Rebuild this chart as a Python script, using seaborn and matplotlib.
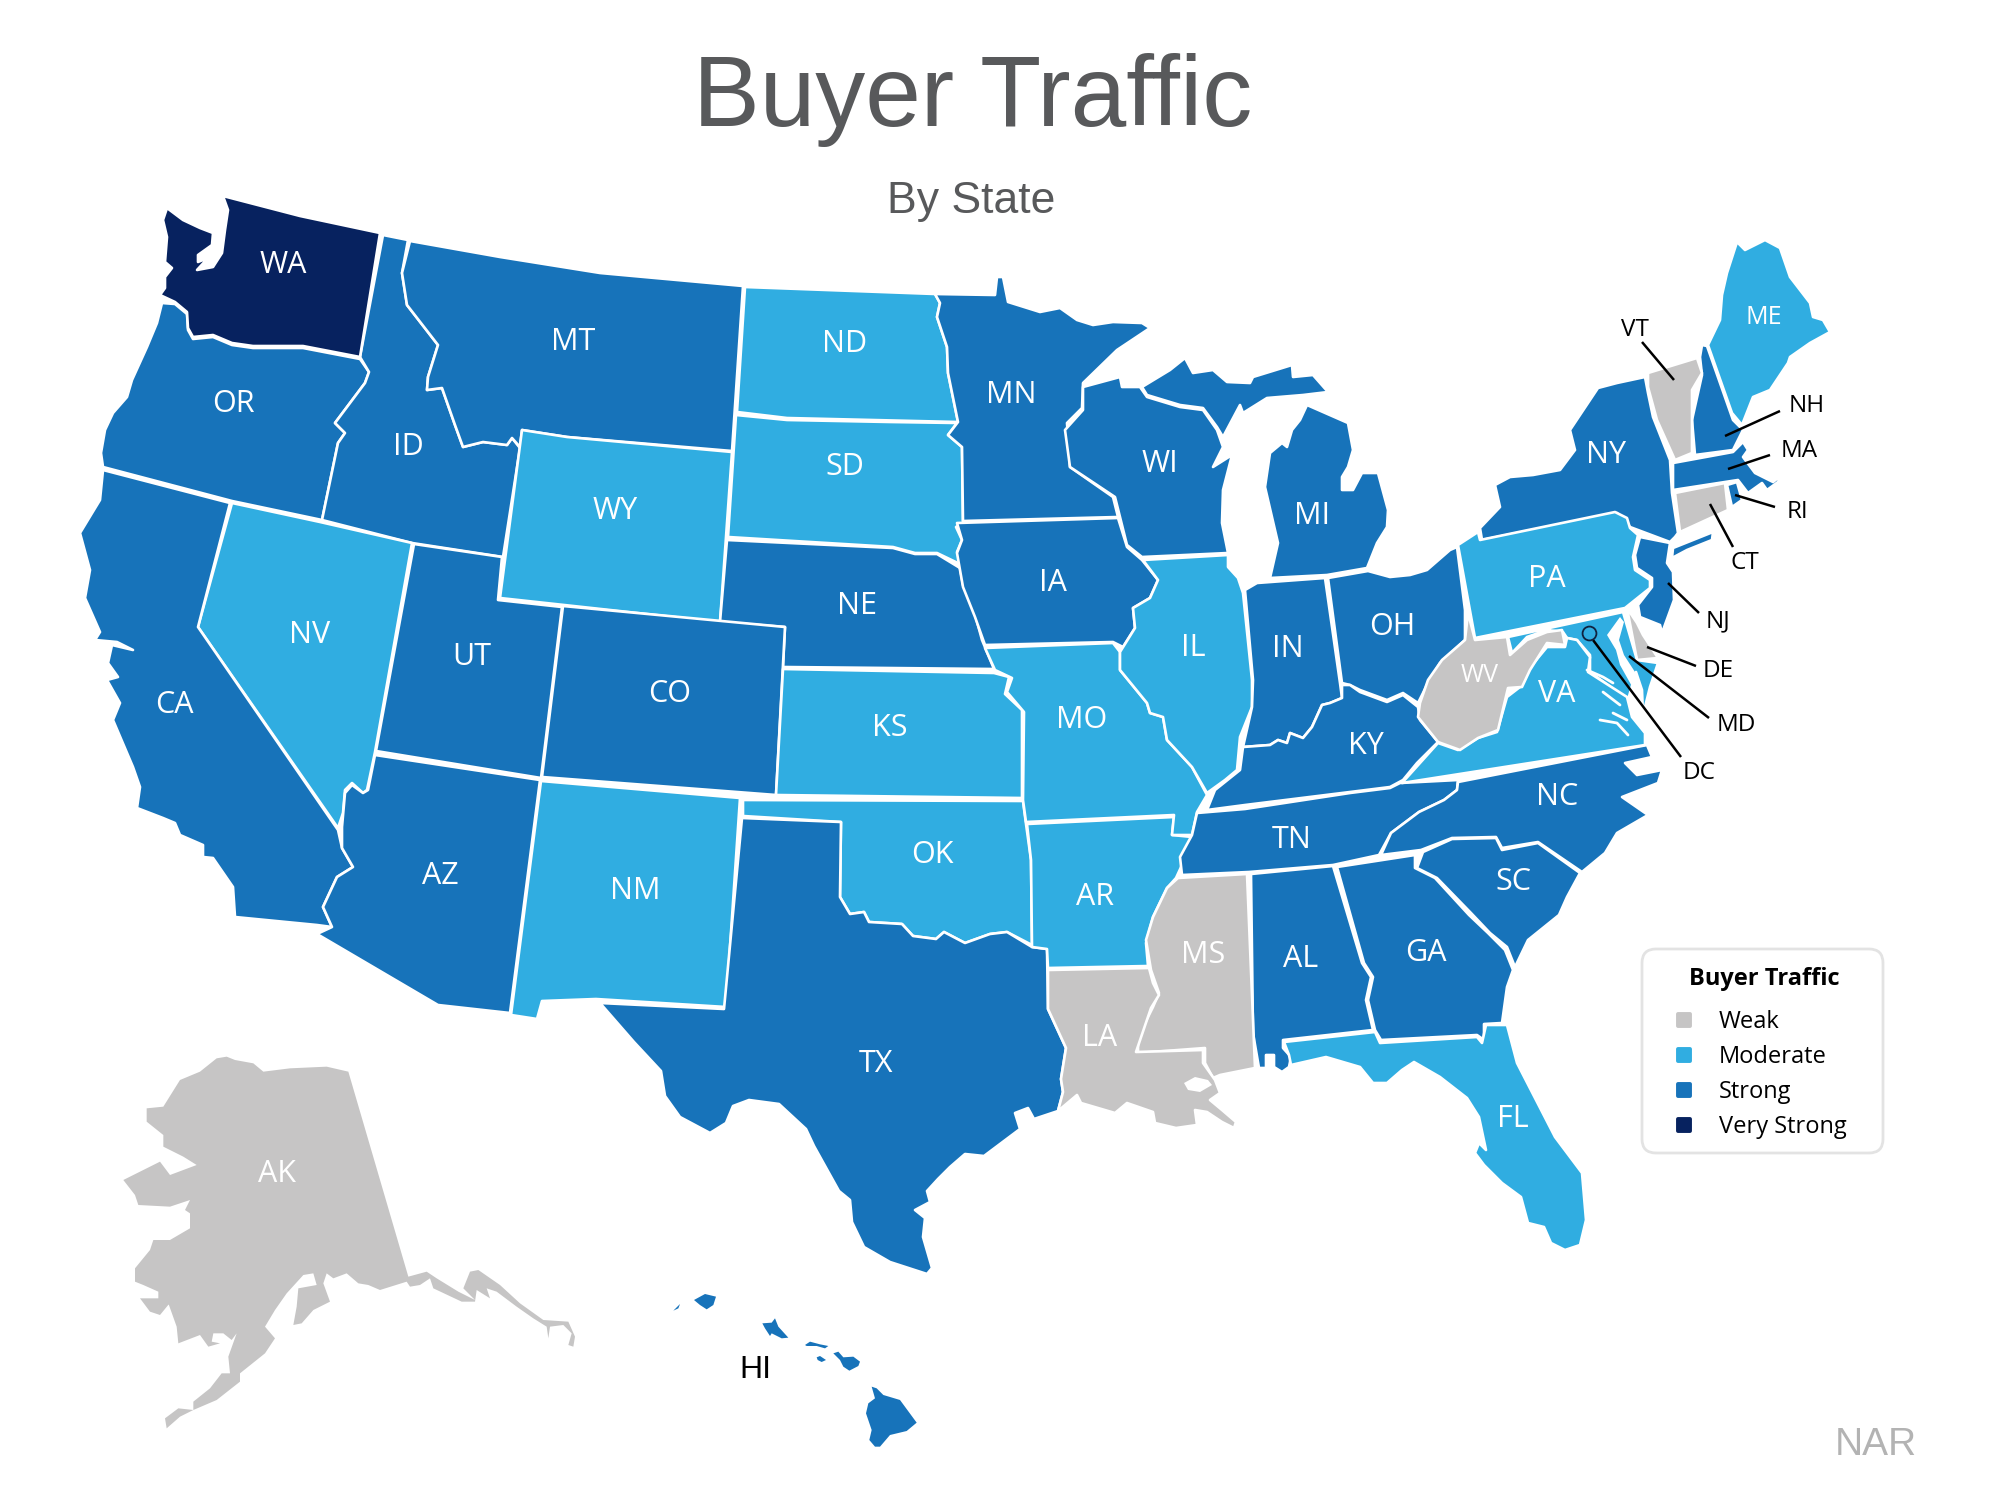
import matplotlib
matplotlib.use("Agg")
import matplotlib.pyplot as plt
from matplotlib.patches import FancyBboxPatch
import pandas as pd
import seaborn as sns

# buyer traffic rating per state
LEVELS = ["Weak", "Moderate", "Strong", "Very Strong"]
LEVEL_COLORS = ["#c6c5c5", "#30ade1", "#1773ba", "#07225f"]
WEAK = ["AK", "CT", "DE", "LA", "MS", "VT", "WV"]
MODERATE = ["AR", "FL", "IL", "KS", "ME", "MD", "MO", "ND", "NM", "NV", "OK", "PA", "SD", "VA", "WY"]
STRONG = ["AL", "AZ", "CA", "CO", "GA", "HI", "IA", "ID", "IN", "KY", "MA", "MI", "MN", "MT", "NC",
          "NE", "NH", "NJ", "NY", "OH", "OR", "RI", "SC", "TN", "TX", "UT", "WI"]
VERY_STRONG = ["WA"]

# state outlines in pixels
WA = [(223,196),(300,216),(380,233),(360,357),(303,346),(280,346),(253,346),(232,343),(213,335),(193,337),(188,328),
      (187,312),(175,302),(160,295),(165,288),(165,277),(172,268),(165,262),(167,237),(163,220),(167,208),(183,220),
      (200,228),(213,233),(212,245),(198,255),(198,262),(208,258),(197,270),(213,267),(222,253),(225,230),(228,210)]
OR = [(162,303),(175,304),(187,314),(188,330),(193,339),(213,337),(232,345),(253,348),(280,348),(303,348),(360,359),
      (369,372),(365,383),(347,407),(335,423),(345,433),(338,443),(322,520),(232,501),(103,467),(101,453),(105,430),(113,413),
      (127,397),(132,380),(147,347),(157,323)]
ID = [(383,235),(408,240),(402,273),(407,305),(438,345),(428,377),(427,390),(442,388),(455,425),(463,447),(483,442),
      (507,445),(512,438),(520,448),(503,557),(412,543),(322,520),(338,443),(345,433),(335,423),(347,407),(365,383),
      (369,372),(360,357)]
MT = [(410,241),(500,257),(600,273),(743,286),(732,451),(567,437),(522,430),(520,447),(512,438),(507,445),(483,442),
      (463,447),(455,425),(442,388),(427,390),(428,377),(438,345),(407,305),(402,273)]
WY = [(522,430),(567,437),(732,452),(720,622),(500,598)]
ND = [(745,287),(935,294),(940,303),(937,317),(947,347),(948,373),(958,422),(787,418),(737,412)]
SD = [(736,415),(787,420),(890,422),(957,423),(948,435),(962,447),(963,523),(956,527),(962,540),(957,552),(962,565),
      (937,553),(915,553),(893,547),(728,537)]
NE = [(727,540),(893,548),(915,554),(937,554),(960,568),(963,585),(973,607),(982,640),(994,669),(783,667),(785,627),(720,622)]
CO = [(563,606),(785,627),(776,795),(542,777)]
UT = [(414,544),(502,557),(498,600),(562,607),(541,778),(376,751)]
NV = [(232,503),(320,522),(412,543),(375,752),(367,790),(363,793),(352,783),(345,790),(343,813),(338,828),(198,627)]
CA = [(103,470),(230,503),(198,627),(338,830),(342,848),(353,867),(337,877),(323,907),(332,927),(317,925),(235,917),
      (233,887),(213,858),(203,857),(203,845),(180,835),(175,823),(163,818),(137,808),(140,787),(133,767),(113,720),
      (120,703),(107,680),(118,677),(108,663),(112,645),(133,650),(117,642),(95,640),(100,632),(85,598),(90,570),
      (80,533),(100,500)]
AZ = [(375,755),(540,780),(510,1013),(438,1005),(317,934),(332,927),(323,907),(337,877),(353,867),(342,848),(342,827),
      (345,793),(352,785),(363,793),(368,790)]
NM = [(541,781),(740,798),(726,1007),(596,999),(542,1001),(537,1019),(511,1015)]
TX = [(742,818),(841,822),(840,897),(850,914),(864,912),(869,922),(902,924),(913,936),(936,939),(944,932),(965,943),
      (990,934),(1007,932),(1032,947),(1047,949),(1048,1009),(1066,1048),(1061,1079),(1063,1092),(1058,1111),(1034,1119),
      (1028,1108),(1015,1113),(1020,1129),(984,1156),(965,1154),(950,1167),(938,1179),(927,1191),(930,1202),(915,1210),
      (925,1218),(923,1237),(932,1268),(927,1274),(890,1262),(864,1247),(852,1222),(850,1200),(839,1191),(814,1146),
      (806,1129),(779,1104),(749,1100),(733,1106),(726,1123),(710,1133),(680,1117),(665,1096),(661,1071),(634,1042),
      (600,1003),(724,1009)]
OK = [(743,800),(1023,801),(1026,824),(1031,860),(1032,945),(1007,932),(990,934),(965,943),(944,932),(936,939),(913,936),
      (902,924),(869,922),(864,912),(850,914),(840,897),(841,822),(743,816)]
KS = [(783,669),(994,673),(1009,677),(1005,694),(1022,710),(1022,798),(776,795)]
MO = [(985,648),(1113,643),(1120,652),(1120,670),(1147,703),(1150,713),(1163,717),(1167,740),(1192,767),(1207,795),
      (1197,812),(1192,835),(1172,835),(1174,815),(1026,822),(1023,800),(1024,712),(1007,692),(1012,678),(995,670)]
AR = [(1027,824),(1174,817),(1172,835),(1192,837),(1182,865),(1176,878),(1167,888),(1153,917),(1146,943),(1148,966),
      (1048,968),(1047,949),(1032,947),(1031,860)]
IA = [(957,523),(1118,518),(1127,547),(1142,560),(1158,580),(1150,598),(1133,608),(1135,628),(1123,647),(1113,642),
      (985,645),(975,617),(963,587),(957,553),(962,540)]
MN = [(935,294),(995,295),(997,277),(1003,277),(1008,302),(1040,312),(1060,308),(1077,320),(1093,325),(1113,322),(1142,323),
      (1150,328),(1117,350),(1083,383),(1082,408),(1067,423),(1070,467),(1113,497),(1118,517),(963,521),(962,447),(948,435),
      (958,422),(948,373),(947,347),(937,317),(940,303)]
WI = [(1083,387),(1120,377),(1122,387),(1140,387),(1147,397),(1180,407),(1203,410),(1217,430),(1223,447),(1213,467),
      (1232,455),(1223,490),(1222,523),(1228,553),(1142,557),(1127,545),(1115,497),(1070,467),(1065,430),(1083,410)]
MI_UPPER = [(1142,387),(1170,370),(1185,358),(1193,373),(1213,370),(1227,382),(1250,383),(1253,377),(1292,365),(1293,377),
            (1313,375),(1328,392),(1303,395),(1267,398),(1243,413),(1240,405),(1223,437),(1217,427),(1203,408),(1180,405),(1147,395)]
MI_LOWER = [(1307,405),(1348,423),(1353,450),(1348,467),(1342,477),(1342,490),(1353,490),(1362,473),(1378,473),(1388,510),
            (1387,527),(1377,543),(1367,568),(1327,575),(1270,578),(1278,543),(1265,487),(1270,453),(1282,443),(1287,447),
            (1292,430),(1300,420)]
IL = [(1143,560),(1228,555),(1228,567),(1238,578),(1243,593),(1252,680),(1252,707),(1240,737),(1237,770),(1225,780),(1207,793),
      (1192,767),(1167,740),(1163,717),(1150,713),(1147,703),(1120,670),(1120,652),(1135,628),(1133,608),(1150,598),(1158,580)]
IN = [(1245,590),(1257,583),(1325,578),(1340,683),(1342,698),(1330,703),(1322,705),(1312,727),(1303,738),(1290,733),(1287,743),
      (1278,740),(1270,745),(1243,747),(1252,707),(1253,680)]
OH = [(1328,578),(1368,571),(1390,577),(1410,575),(1427,570),(1450,550),(1457,547),(1465,610),(1465,640),(1440,663),(1428,683),
      (1418,703),(1403,693),(1387,700),(1360,690),(1350,685),(1342,683)]
KY = [(1243,747),(1270,745),(1278,740),(1287,743),(1290,733),(1303,738),(1312,727),(1322,705),(1330,703),(1342,698),(1342,685),
      (1350,685),(1360,692),(1387,702),(1403,695),(1418,707),(1420,720),(1438,742),(1417,763),(1403,780),(1390,787),(1350,792),
      (1245,805),(1207,810),(1215,790),(1240,770)]
TN = [(1197,813),(1245,809),(1350,793),(1390,788),(1400,783),(1458,780),(1457,790),(1444,800),(1419,812),(1391,833),(1379,855),
      (1333,865),(1249,872),(1182,875),(1180,857),(1192,835)]
NC = [(1458,782),(1647,745),(1652,757),(1625,763),(1637,775),(1662,770),(1658,783),(1622,797),(1648,815),(1617,833),(1605,853),
      (1582,872),(1538,842),(1502,848),(1496,837),(1452,838),(1421,850),(1381,855),(1391,833),(1419,812),(1444,800),(1457,790)]
SC = [(1423,852),(1452,839),(1496,838),(1502,850),(1538,843),(1580,873),(1567,897),(1559,915),(1528,940),(1515,967),(1507,947),
      (1490,933),(1471,913),(1437,878),(1417,868)]
GA = [(1337,867),(1415,855),(1415,868),(1435,878),(1469,915),(1488,933),(1505,950),(1513,970),(1507,987),(1502,1023),(1484,1024),
      (1484,1040),(1477,1035),(1381,1040),(1375,1030),(1368,1000),(1373,977),(1364,963)]
AL = [(1251,874),(1333,866),(1362,963),(1371,977),(1366,1000),(1373,1030),(1283,1040),(1283,1048),(1291,1057),(1289,1067),
      (1282,1072),(1274,1067),(1274,1055),(1266,1055),(1266,1068),(1259,1068),(1253,1033)]
FL = [(1284,1042),(1375,1032),(1380,1043),(1477,1037),(1482,1043),(1486,1025),(1507,1025),(1517,1063),(1555,1137),(1582,1173),
      (1586,1220),(1580,1245),(1565,1250),(1551,1243),(1544,1227),(1528,1223),(1521,1197),(1502,1183),(1484,1165),(1475,1153),
      (1479,1143),(1486,1150),(1479,1117),(1467,1098),(1440,1077),(1414,1062),(1402,1070),(1387,1083),(1373,1083),(1360,1067),(1326,1057),
      (1291,1065),(1289,1055)]
MS = [(1178,878),(1247,874),(1255,1068),(1220,1075),(1213,1078),(1205,1063),(1205,1048),(1138,1053),(1138,1037),(1153,1007),
      (1159,993),(1151,970),(1146,940),(1153,917),(1167,888)]
LA = [(1048,970),(1149,968),(1153,983),(1159,995),(1151,1008),(1136,1052),(1203,1050),(1203,1063),(1215,1080),(1220,1093),
      (1210,1100),(1222,1110),(1236,1122),(1234,1128),(1222,1122),(1207,1112),(1195,1110),(1197,1125),(1176,1128),(1155,1123),
      (1153,1112),(1127,1103),(1115,1113),(1081,1103),(1077,1095),(1058,1111),(1063,1092),(1061,1079),(1066,1048),(1048,1009)]
ME = [(1708,345),(1720,320),(1722,295),(1727,273),(1737,242),(1745,250),(1765,240),(1780,248),(1790,277),(1810,303),(1813,317),
      (1823,320),(1830,332),(1810,343),(1790,357),(1788,363),(1770,390),(1753,397),(1742,425),(1732,413)]
NH = [(1702,345),(1707,346),(1733,420),(1743,430),(1733,450),(1695,455),(1692,420),(1702,375),(1700,357)]
VT = [(1648,373),(1697,358),(1702,373),(1692,390),(1692,453),(1675,460),(1657,420),(1648,387)]
NY = [(1645,377),(1648,393),(1653,417),(1670,460),(1672,493),(1678,533),(1675,537),(1670,542),(1630,527),(1617,513),(1482,540),
      (1480,528),(1500,507),(1495,485),(1510,477),(1533,475),(1560,470),(1575,450),(1570,430),(1598,388),(1617,383)]
LONG_ISLAND = [(1672,558),(1673,548),(1713,532),(1712,540),(1687,550)]
MA = [(1673,463),(1733,452),(1743,442),(1748,450),(1743,457),(1755,473),(1773,482),(1782,475),(1778,482),(1767,490),(1762,483),
      (1748,493),(1738,480),(1673,490)]
CT = [(1675,493),(1725,483),(1728,510),(1680,532)]
RI = [(1727,485),(1737,482),(1742,500),(1732,507)]
PA = [(1478,532),(1480,540),(1615,512),(1627,518),(1630,528),(1638,535),(1633,557),(1635,570),(1650,580),(1650,588),(1625,608),
      (1475,638),(1458,545)]
NJ = [(1640,537),(1670,543),(1667,563),(1673,572),(1674,600),(1662,633),(1660,625),(1640,617),(1638,605),(1652,587),(1652,578),
      (1637,568),(1635,555)]
DE = [(1627,608),(1637,623),(1643,635),(1658,658),(1637,660)]
MD = [(1508,637),(1623,612),(1637,660),(1658,663),(1650,687),(1643,715),(1642,690),(1636,672),(1628,700),(1590,672),(1590,655),
      (1577,640),(1567,638),(1563,632),(1547,630),(1527,637),(1512,653)]
VA = [(1402,783),(1438,743),(1458,750),(1478,738),(1497,732),(1507,697),(1520,687),(1528,670),(1547,647),(1565,647),(1567,638),
      (1577,640),(1590,657),(1588,672),(1627,697),(1632,717),(1645,733),(1645,745)]
WV = [(1475,640),(1507,637),(1510,655),(1527,640),(1547,632),(1562,630),(1565,645),(1547,643),(1530,670),(1522,687),(1508,688),
      (1498,730),(1478,738),(1460,750),(1438,742),(1418,717),(1420,703),(1428,680),(1442,660),(1465,640),(1468,613)]
AK_CROP = [(745,95),(925,710),(980,695),(1010,715),(1075,755),(1125,780),(1090,745),(1110,695),(1135,690),(1200,735),(1260,790),
           (1330,840),(1405,845),(1425,890),(1420,920),(1405,915),(1415,880),(1390,855),(1350,860),(1345,895),(1340,860),(1300,835),
           (1250,800),(1190,755),(1160,745),(1170,775),(1130,750),(1125,785),(1085,785),(1000,745),(990,715),(960,735),(930,740),
           (920,725),(840,750),(805,735),(775,730),(740,700),(700,715),(680,700),(670,730),(690,785),(640,810),(605,850),(580,855),
           (590,800),(595,745),(650,735),(640,700),(610,705),(560,760),(525,810),(495,860),(525,895),(495,940),(420,1000),(420,1025),
           (350,1080),(280,1110),(240,1130),(200,1165),(195,1135),(235,1105),(280,1110),(280,1085),(330,1045),(365,1000),(390,1000),
           (385,950),(410,880),(395,900),(370,880),(340,880),(335,905),(360,910),(325,920),(300,885),(235,910),(230,860),(205,790),
           (225,770),(180,825),(150,815),(120,775),(175,775),(175,755),(130,735),(105,725),(105,685),(150,630),(160,600),(210,600),
           (270,565),(270,520),(255,510),(270,480),(210,500),(115,495),(105,465),(70,420),(140,385),(180,365),(210,405),(290,375),
           (250,350),(190,320),(190,285),(140,245),(140,205),(190,200),(240,120),(300,95),(350,55),(380,50),(405,60),(460,70),
           (490,95),(570,85),(680,80)]
HI_CROP = [
    [(70,122),(90,102),(85,115)],
    [(132,90),(165,72),(198,80),(190,105),(170,118),(150,105)],
    [(337,160),(365,158),(375,145),(385,170),(415,203),(395,205),(365,190),(360,198),(345,175)],
    [(465,225),(480,215),(510,223),(535,228),(525,235),(500,228),(470,228)],
    [(500,262),(510,258),(528,270),(515,276),(503,270)],
    [(550,250),(565,245),(580,262),(610,260),(630,275),(625,288),(598,302),(580,290),(570,270)],
    [(665,350),(680,355),(700,375),(750,390),(800,458),(770,483),(720,495),(690,530),(675,530),(658,510),(665,480),(648,430),(655,400),(675,385)],
]
# water drawn back over the land
BAY = [(1620,617),(1607,635),(1616,650),(1620,665),(1634,690),(1637,718),(1642,715),(1641,690),(1635,672),(1624,655),(1619,640),(1624,622)]
LAKE_PONTCHARTRAIN = [(1184,1083),(1195,1077),(1208,1080),(1212,1085),(1200,1092),(1188,1090)]
RIVERS = [[(1587,670),(1603,677),(1613,683)], [(1603,692),(1620,705)], [(1613,713),(1627,720)], [(1600,720),(1617,723),(1628,735)]]

# label anchors
LABELS = {"WA":(283,262),"OR":(233,401),"ID":(408,444),"CA":(174,702),"NV":(310,632),"UT":(472,654),"AZ":(440,873),
          "MT":(573,339),"ND":(845,341),"SD":(845,464),"WY":(615,508),"NE":(857,603),"CO":(670,691),"KS":(890,725),
          "OK":(932,852),"NM":(635,888),"TX":(876,1061),"MO":(1082,717),"MN":(1011,392),"WI":(1160,461),"IA":(1053,580),
          "IL":(1193,645),"IN":(1288,646),"MI":(1312,513),"OH":(1392,624),"KY":(1366,743),"NY":(1606,452),"ME":(1764,314),
          "PA":(1547,576),"WV":(1480,673),"VA":(1557,691),"NC":(1557,794),"TN":(1292,837),"AR":(1095,894),"MS":(1203,952),
          "LA":(1100,1035),"AL":(1301,956),"GA":(1426,950),"SC":(1513,879),"FL":(1513,1116),"AK":(277,1171)}
SMALL_LABELS = ["ME", "WV"]
# small states: label, label anchor, leader line start and end
CALLOUTS = [("VT",(1635,327),(1642,342),(1674,380)), ("NH",(1807,403),(1780,411),(1725,436)),
            ("MA",(1799,448),(1770,455),(1728,469)), ("RI",(1797,509),(1775,507),(1735,495)),
            ("CT",(1745,560),(1733,547),(1710,504)), ("NJ",(1718,618),(1699,613),(1668,583)),
            ("DE",(1718,668),(1696,666),(1647,647)), ("MD",(1736,722),(1709,718),(1629,656)),
            ("DC",(1699,770),(1681,757),(1593,640))]

OUTLINES = {"OR":[OR],"ID":[ID],"MT":[MT],"WY":[WY],"ND":[ND],"SD":[SD],"NE":[NE],"CO":[CO],"UT":[UT],"NV":[NV],"CA":[CA],
            "AZ":[AZ],"NM":[NM],"OK":[OK],"TX":[TX],"KS":[KS],"MN":[MN],"IA":[IA],"AR":[AR],"MO":[MO],"WI":[WI],"IL":[IL],
            "MI":[MI_UPPER,MI_LOWER],"IN":[IN],"OH":[OH],"KY":[KY],"TN":[TN],"NC":[NC],"SC":[SC],"GA":[GA],"AL":[AL],"FL":[FL],
            "MS":[MS],"LA":[LA],"ME":[ME],"NH":[NH],"VT":[VT],"NY":[NY,LONG_ISLAND],"MA":[MA],"CT":[CT],"RI":[RI],"PA":[PA],
            "NJ":[NJ],"DE":[DE],"MD":[MD],"VA":[VA],"WV":[WV],"WA":[WA]}

sns.set_theme(style="white")
palette = dict(zip(LEVELS, sns.color_palette(LEVEL_COLORS)))
state_level = {s: lev for lev, group in zip(LEVELS, [WEAK, MODERATE, STRONG, VERY_STRONG]) for s in group}

fig = plt.figure(figsize=(20, 15), dpi=100, facecolor="white")
ax = fig.add_axes([0, 0, 1, 1])

for state, parts in OUTLINES.items():
    for part in parts:
        xs, ys = zip(*part)
        ax.fill(xs, ys, facecolor=palette[state_level[state]], edgecolor="white", linewidth=1.9, joinstyle="round")

xs, ys = zip(*[(100 + x / 3, 1040 + y / 3) for x, y in AK_CROP])
ax.fill(xs, ys, facecolor=palette["Weak"], edgecolor="none")
for island in HI_CROP:
    xs, ys = zip(*[(650 + x / 3, 1270 + y / 3) for x, y in island])
    ax.fill(xs, ys, facecolor=palette["Strong"], edgecolor="none")

for water in [BAY, LAKE_PONTCHARTRAIN]:
    xs, ys = zip(*water)
    ax.fill(xs, ys, facecolor="white", edgecolor="none")
for river in RIVERS:
    xs, ys = zip(*river)
    ax.plot(xs, ys, color="white", lw=2, solid_capstyle="round")

# text sits a little low in its anchor
TEXT_DY = 3
for state, (x, y) in LABELS.items():
    size = 18 if state in SMALL_LABELS else 22
    ax.text(x, y + TEXT_DY, state, color="white", fontsize=size, family="Open Sans", ha="center", va="center")

for state, (lx, ly), start, end in CALLOUTS:
    ax.plot([start[0], end[0]], [start[1], end[1]], color="black", lw=1.8, solid_capstyle="butt")
    ax.text(lx, ly + TEXT_DY, state, color="black", fontsize=17.5, family="Open Sans", ha="center", va="center")
ax.plot([1589], [633], marker="o", ms=10, mfc=palette["Moderate"], mec="#10223f", mew=1.3)

ax.text(755, 1367 + TEXT_DY, "HI", color="black", fontsize=23, family="Liberation Sans", ha="center", va="center")
ax.text(973, 100, "Buyer Traffic", color="#58595b", fontsize=72, family="Liberation Sans", ha="center", va="center")
ax.text(971, 202, "By State", color="#58595b", fontsize=32, family="Liberation Sans", ha="center", va="center")
ax.text(1876, 1445, "NAR", color="#b3b3b3", fontsize=28, family="Liberation Sans", ha="center", va="center")

# legend box, swatches go through seaborn
ax.add_patch(FancyBboxPatch((1642, 949), 241, 204, boxstyle="round,pad=0,rounding_size=14",
                            facecolor="white", edgecolor="#e3e3e3", linewidth=2))
ax.text(1764, 976 + TEXT_DY, "Buyer Traffic", color="black", fontsize=17, weight="bold", family="Open Sans", ha="center", va="center")
legend_df = pd.DataFrame({"level": LEVELS, "x": 1684, "y": [1020 + 35 * i for i in range(len(LEVELS))]})
sns.scatterplot(data=legend_df, x="x", y="y", hue="level", palette=palette, marker="s", s=80,
                linewidth=2.8, edgecolor="face", legend=False, ax=ax)
ax.collections[-1].set_joinstyle("round")
for row in legend_df.itertuples():
    ax.text(1719, row.y + 2, row.level, color="black", fontsize=17, family="Open Sans", ha="left", va="center")

ax.set_xlim(0, 2000)
ax.set_ylim(1500, 0)
ax.axis("off")
fig.savefig("out.png", dpi=100, facecolor="white")
